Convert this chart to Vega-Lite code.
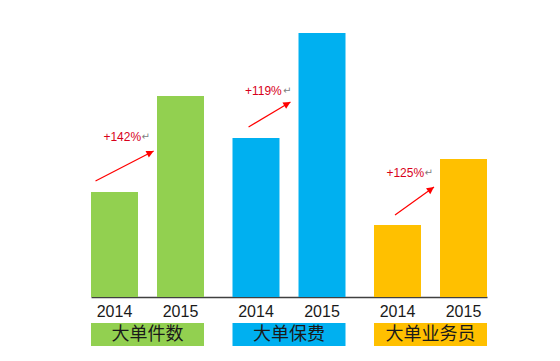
{
  "$schema": "https://vega.github.io/schema/vega-lite/v6.json",
  "padding": {"left": 91, "top": 7, "right": 0, "bottom": 0},
  "background": "white",
  "config": {"view": {"stroke": null}},
  "datasets": {
    "bars": [
      {"cat": "大单件数", "year": "2014", "v": 105},
      {"cat": "大单件数", "year": "2015", "v": 201},
      {"cat": "大单保费", "year": "2014", "v": 159},
      {"cat": "大单保费", "year": "2015", "v": 264},
      {"cat": "大单业务员", "year": "2014", "v": 72},
      {"cat": "大单业务员", "year": "2015", "v": 138}
    ],
    "ann": [
      {"cat": "大单件数", "y1": 116, "y2": 146, "lab": "+142%", "ly": 160},
      {"cat": "大单保费", "y1": 170, "y2": 195, "lab": "+119%", "ly": 206},
      {"cat": "大单业务员", "y1": 82, "y2": 110, "lab": "+125%", "ly": 124}
    ],
    "cats": [
      {"cat": "大单件数"},
      {"cat": "大单保费"},
      {"cat": "大单业务员"}
    ]
  },
  "spacing": 3,
  "vconcat": [
    {
      "width": 396,
      "height": 290,
      "encoding": {
        "x": {"field": "cat", "type": "nominal", "sort": null,
              "scale": {"domain": ["大单件数", "大单保费", "大单业务员"], "paddingInner": 0.2014, "paddingOuter": 0},
              "axis": {"labels": false, "ticks": false, "title": null, "domainColor": "#404040", "domainWidth": 1.5}}
      },
      "layer": [
        {
          "data": {"name": "bars"},
          "mark": {"type": "bar"},
          "encoding": {
            "xOffset": {"field": "year", "type": "nominal", "scale": {"paddingInner": 0.288, "paddingOuter": 0}},
            "y": {"field": "v", "type": "quantitative", "scale": {"domain": [0, 290], "nice": false}, "axis": null},
            "color": {"field": "cat", "type": "nominal", "legend": null,
                      "scale": {"domain": ["大单件数", "大单保费", "大单业务员"], "range": ["#92D050", "#00B0F0", "#FFC000"]}}
          }
        },
        {
          "data": {"name": "ann"},
          "transform": [{"filter": "datum.cat == '大单件数'"}],
          "mark": {"type": "rule", "color": "#FF0000", "strokeWidth": 1.2},
          "encoding": {
            "x": {"field": "cat", "type": "nominal", "bandPosition": 0.04},
            "x2": {"field": "cat", "bandPosition": 0.554},
            "y": {"field": "y1", "type": "quantitative"},
            "y2": {"field": "y2"}
          }
        },
        {
          "data": {"name": "ann"},
          "transform": [{"filter": "datum.cat == '大单件数'"}],
          "mark": {"type": "point", "filled": true, "color": "#FF0000", "opacity": 1, "size": 64, "shape": "M0,0L-0.9,1.8L0.9,1.8Z", "angle": 62.7},
          "encoding": {
            "x": {"field": "cat", "type": "nominal", "bandPosition": 0.554},
            "y": {"field": "y2", "type": "quantitative"}
          }
        },
        {
          "data": {"name": "ann"},
          "transform": [{"filter": "datum.cat == '大单保费'"}],
          "mark": {"type": "rule", "color": "#FF0000", "strokeWidth": 1.2},
          "encoding": {
            "x": {"field": "cat", "type": "nominal", "bandPosition": 0.142},
            "x2": {"field": "cat", "bandPosition": 0.513},
            "y": {"field": "y1", "type": "quantitative"},
            "y2": {"field": "y2"}
          }
        },
        {
          "data": {"name": "ann"},
          "transform": [{"filter": "datum.cat == '大单保费'"}],
          "mark": {"type": "point", "filled": true, "color": "#FF0000", "opacity": 1, "size": 64, "shape": "M0,0L-0.9,1.8L0.9,1.8Z", "angle": 59.2},
          "encoding": {
            "x": {"field": "cat", "type": "nominal", "bandPosition": 0.513},
            "y": {"field": "y2", "type": "quantitative"}
          }
        },
        {
          "data": {"name": "ann"},
          "transform": [{"filter": "datum.cat == '大单业务员'"}],
          "mark": {"type": "rule", "color": "#FF0000", "strokeWidth": 1.2},
          "encoding": {
            "x": {"field": "cat", "type": "nominal", "bandPosition": 0.186},
            "x2": {"field": "cat", "bandPosition": 0.531},
            "y": {"field": "y1", "type": "quantitative"},
            "y2": {"field": "y2"}
          }
        },
        {
          "data": {"name": "ann"},
          "transform": [{"filter": "datum.cat == '大单业务员'"}],
          "mark": {"type": "point", "filled": true, "color": "#FF0000", "opacity": 1, "size": 64, "shape": "M0,0L-0.9,1.8L0.9,1.8Z", "angle": 54.3},
          "encoding": {
            "x": {"field": "cat", "type": "nominal", "bandPosition": 0.531},
            "y": {"field": "y2", "type": "quantitative"}
          }
        },
        {
          "data": {"name": "ann"},
          "mark": {"type": "text", "align": "left", "baseline": "middle", "color": "#D8001B", "fontSize": 12, "font": "Liberation Sans"},
          "encoding": {
            "x": {"field": "cat", "type": "nominal", "bandPosition": 0.11},
            "y": {"field": "ly", "type": "quantitative"},
            "text": {"field": "lab"}
          }
        },
        {
          "data": {"name": "ann"},
          "mark": {"type": "text", "align": "left", "baseline": "middle", "color": "#808080", "fontSize": 10, "font": "DejaVu Sans", "dx": 38},
          "encoding": {
            "x": {"field": "cat", "type": "nominal", "bandPosition": 0.11},
            "y": {"field": "ly", "type": "quantitative"},
            "text": {"value": "↵"}
          }
        }
      ]
    },
    {
      "width": 396,
      "height": 46,
      "encoding": {
        "x": {"field": "cat", "type": "nominal", "sort": null,
              "scale": {"domain": ["大单件数", "大单保费", "大单业务员"], "paddingInner": 0.2014, "paddingOuter": 0},
              "axis": null}
      },
      "layer": [
        {
          "data": {"name": "bars"},
          "mark": {"type": "text", "fontSize": 16, "font": "Liberation Sans", "color": "#1a1a1a", "baseline": "middle"},
          "encoding": {
            "xOffset": {"field": "year", "type": "nominal", "scale": {"paddingInner": 0.288, "paddingOuter": 0}},
            "y": {"datum": "yr", "type": "nominal", "scale": {"domain": ["yr", "box"], "paddingInner": 0, "paddingOuter": 0}, "axis": null},
            "text": {"field": "year"}
          }
        },
        {
          "data": {"name": "cats"},
          "mark": {"type": "bar"},
          "encoding": {
            "y": {"datum": "box", "type": "nominal"},
            "color": {"field": "cat", "type": "nominal", "legend": null,
                      "scale": {"domain": ["大单件数", "大单保费", "大单业务员"], "range": ["#92D050", "#00B0F0", "#FFC000"]}}
          }
        },
        {
          "data": {"name": "cats"},
          "mark": {"type": "text", "fontSize": 18, "font": "Noto Sans CJK SC", "color": "#1a1a1a", "baseline": "middle"},
          "encoding": {
            "y": {"datum": "box", "type": "nominal"},
            "text": {"field": "cat"}
          }
        }
      ]
    }
  ]
}
